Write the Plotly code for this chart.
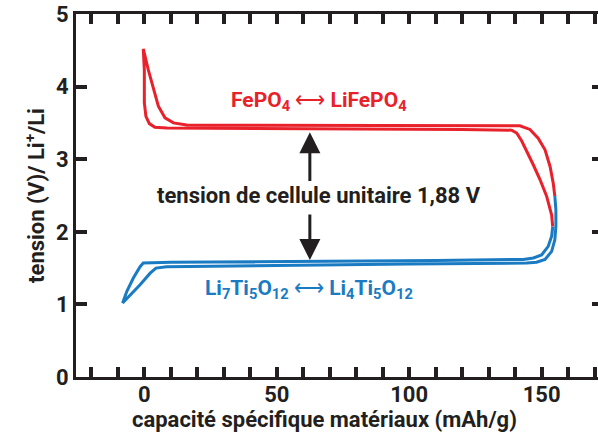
import plotly.graph_objects as go

# Red curve (FePO4 <-> LiFePO4), one continuous path
red_x = [154.2, 153.8, 151.9, 149.4, 146.9, 144.4, 142.5, 140.6, 138.7, 120, 80, 40, 15, 8.5,
         4.0, 1.9, 0.6, 0.0, 0.0, -0.4,
         1.5, 3.4, 5.3, 7.8, 11, 16, 40, 90, 141.8, 145.6, 148.7, 151.3, 153.2, 154.4, 155.0]
red_y = [2.07, 2.23, 2.49, 2.72, 2.92, 3.11, 3.25, 3.36, 3.40, 3.41, 3.42, 3.42, 3.43, 3.43,
         3.44, 3.49, 3.59, 3.78, 4.23, 4.52,
         4.23, 3.96, 3.73, 3.57, 3.50, 3.47, 3.47, 3.47, 3.46, 3.41, 3.29, 3.13, 2.90, 2.67, 2.49]

# Blue curve (Li7Ti5O12 <-> Li4Ti5O12)
blue_x = [155.0, 155.4, 155.4, 155.0, 153.8, 151.3, 148.1, 144.4, 100, 60, 20, 8.4,
          4.4, 2.2, -1.6, -5.4, -8.2,
          -6.6, -4.2, -1.6, -0.4, 10, 60, 110, 143.1, 146.9, 150.0, 152.5, 153.8, 154.2]
blue_y = [2.49, 2.30, 2.07, 1.89, 1.73, 1.62, 1.58, 1.57, 1.555, 1.54, 1.525, 1.52,
          1.50, 1.43, 1.27, 1.13, 1.02,
          1.18, 1.36, 1.52, 1.57, 1.58, 1.59, 1.605, 1.62, 1.64, 1.68, 1.80, 1.94, 2.07]

x_ticks = [0, 50, 100, 150]
y_ticks = [0, 1, 2, 3, 4, 5]

RED = "#e8212b"
BLUE = "#1a7bc3"
INK = "#231f20"
FONT = "Roboto, sans-serif"

fig = go.Figure()
fig.add_trace(go.Scatter(x=red_x, y=red_y, mode="lines",
                         line=dict(color=RED, width=3), hoverinfo="skip", showlegend=False))
fig.add_trace(go.Scatter(x=blue_x, y=blue_y, mode="lines",
                         line=dict(color=BLUE, width=3), hoverinfo="skip", showlegend=False))
fig.add_trace(go.Scatter(x=[None], y=[None], yaxis="y2", showlegend=False, hoverinfo="skip"))

# arrows
arrow_x = 62.5
fig.add_annotation(x=arrow_x, y=3.37, ax=arrow_x, ay=2.68, axref="x", ayref="y",
                   xref="x", yref="y", text="", showarrow=True,
                   arrowhead=2, arrowsize=1.4, arrowwidth=3, arrowcolor=INK)
fig.add_annotation(x=arrow_x, y=1.61, ax=arrow_x, ay=2.26, axref="x", ayref="y",
                   xref="x", yref="y", text="", showarrow=True,
                   arrowhead=2, arrowsize=1.4, arrowwidth=3, arrowcolor=INK)

fig.add_annotation(x=66.1, y=3.80, xref="x", yref="y", showarrow=False,
                   text="<b>FePO<sub>4</sub></b> ⟷ <b>LiFePO<sub>4</sub></b>",
                   font=dict(family=FONT, size=21, color=RED))
fig.add_annotation(x=66.0, y=2.50, xref="x", yref="y", showarrow=False,
                   text="<b>tension de cellule unitaire 1,88 V</b>",
                   font=dict(family=FONT, size=22, color=INK))
fig.add_annotation(x=62.2, y=1.20, xref="x", yref="y", showarrow=False,
                   text="<b>Li<sub>7</sub>Ti<sub>5</sub>O<sub>12</sub></b> ⟷ <b>Li<sub>4</sub>Ti<sub>5</sub>O<sub>12</sub></b>",
                   font=dict(family=FONT, size=21, color=BLUE))

# x-axis title placed as a paper annotation for exact vertical position
fig.add_annotation(x=0.477, y=-0.116, xref="paper", yref="paper", showarrow=False,
                   xanchor="center", yanchor="middle",
                   text="<b>capacité spécifique matériaux (mAh/g)</b>",
                   font=dict(family=FONT, size=22, color=INK))

fig.update_layout(
    width=598, height=435,
    margin=dict(l=76, r=0, t=14, b=58),
    paper_bgcolor="white", plot_bgcolor="white",
    font=dict(family=FONT, color=INK),
    xaxis=dict(range=[-25.8, 171.3], tickvals=x_ticks, ticks="inside", ticklen=10,
               tickwidth=3.5, tickcolor=INK, showline=True, linewidth=3, linecolor=INK,
               mirror="ticks", showgrid=False, zeroline=False, ticklabelstandoff=-4,
               minor=dict(dtick=10, tick0=0, ticks="inside", ticklen=10, tickwidth=3.5,
                          tickcolor=INK, showgrid=False),
               tickfont=dict(family=FONT, size=22, color=INK, weight="bold")),
    yaxis=dict(range=[0, 5], tickvals=y_ticks, ticks="inside", ticklen=11,
               tickwidth=3.5, tickcolor=INK, showline=True, linewidth=3, linecolor=INK,
               mirror=False, showgrid=False, zeroline=False, ticklabeloverflow="allow",
               tickfont=dict(family=FONT, size=22, color=INK, weight="bold"),
               title=dict(text="<b>tension (V)/ Li<sup>+</sup>/Li</b>",
                          font=dict(family=FONT, size=22, color=INK), standoff=6)),
    yaxis2=dict(range=[0, 5], tickvals=y_ticks, overlaying="y", side="right",
                ticks="inside", ticklen=6, tickwidth=3.5, tickcolor=INK,
                showline=False, showticklabels=False, showgrid=False, zeroline=False),
)

fig.write_html("out.html", config={"displayModeBar": False},
               post_script="document.body.style.margin='0';document.body.style.overflow='hidden';")
